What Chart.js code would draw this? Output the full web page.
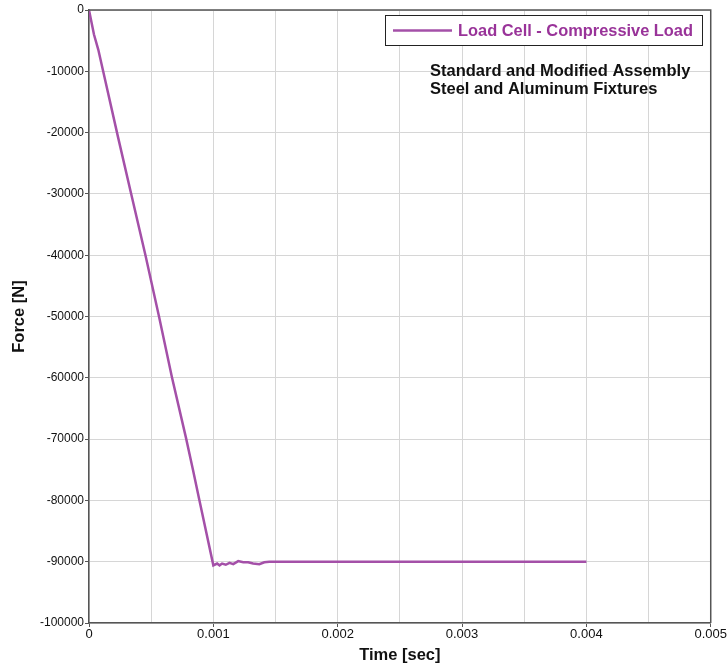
<!DOCTYPE html>
<html>
<head>
<meta charset="utf-8">
<title>Load Cell - Compressive Load</title>
<script src="https://cdn.jsdelivr.net/npm/chart.js@4.4.1/dist/chart.umd.min.js"></script>
<style>
  html, body { margin: 0; padding: 0; background: #fff; }
  #wrap { width: 727px; height: 666px; }
</style>
</head>
<body>
<div id="wrap"><canvas id="forceChart" width="727" height="666"></canvas></div>
<script>
// time [sec] and force [N]
const times = [
  0, 0.000040, 0.000075, 0.000113, 0.000233,
  0.000338, 0.000454, 0.000563, 0.000667, 0.000780,
  0.000836, 0.000887, 0.001000,
  0.00103, 0.00105, 0.00107, 0.00110, 0.00113, 0.00116, 0.00120,
  0.00124, 0.00128, 0.00132, 0.00137, 0.00141, 0.00145, 0.004
];
const forces = [
  0, -4000, -6500, -9900, -20700,
  -29900, -40000, -50000, -59900, -69800,
  -75000, -79900, -90600,
  -90300, -90600, -90300, -90500, -90200, -90400, -89900,
  -90100, -90100, -90300, -90400, -90100, -90000, -90000
];
const seriesLabel = "Load Cell - Compressive Load";
const notes = ["Standard and Modified Assembly", "Steel and Aluminum Fixtures"];
const xTitle = "Time [sec]";
const yTitle = "Force [N]";

const lineColor = "#a450a8";
const legendTextColor = "#993399";
const fontFamily = "'Liberation Sans', Arial, sans-serif";

const points = times.map((t, i) => ({ x: t, y: forces[i] }));

// box round the plot, legend box and the note text
const extras = {
  id: "extras",
  afterDraw(chart) {
    const { ctx, chartArea } = chart;
    const ds = chart.data.datasets[0];
    ctx.save();
    ctx.strokeStyle = "#555";
    ctx.lineWidth = 1.5;
    ctx.beginPath();
    ctx.moveTo(chartArea.left, chartArea.top);
    ctx.lineTo(chartArea.right, chartArea.top);
    ctx.lineTo(chartArea.right, chartArea.bottom);
    ctx.stroke();

    // legend
    ctx.fillStyle = "#fff";
    ctx.fillRect(385, 15, 317, 30);
    ctx.strokeStyle = "#222";
    ctx.lineWidth = 1;
    ctx.strokeRect(385.5, 15.5, 317, 30);
    ctx.strokeStyle = ds.borderColor;
    ctx.lineWidth = 2.5;
    ctx.beginPath();
    ctx.moveTo(393, 30.5);
    ctx.lineTo(452, 30.5);
    ctx.stroke();
    ctx.fillStyle = legendTextColor;
    ctx.font = "bold 16.4px " + fontFamily;
    ctx.textBaseline = "middle";
    ctx.textAlign = "left";
    ctx.fillText(ds.label, 458, 31);

    ctx.fillStyle = "#111";
    ctx.font = "bold 16.5px " + fontFamily;
    notes.forEach((line, i) => ctx.fillText(line, 430, 71 + i * 18));
    ctx.restore();
  }
};

new Chart(document.getElementById("forceChart"), {
  type: "line",
  data: {
    datasets: [{
      label: seriesLabel,
      data: points,
      borderColor: lineColor,
      borderWidth: 2.5,
      pointRadius: 0,
      tension: 0,
      fill: false,
    }],
  },
  options: {
    responsive: false,
    animation: false,
    layout: { padding: { left: 0, right: 16, top: 10, bottom: 0 } },
    plugins: { legend: { display: false }, tooltip: { enabled: false } },
    scales: {
      x: {
        type: "linear",
        min: 0,
        max: 0.005,
        afterFit: (scale) => { scale.height = 43; },
        border: { color: "#555", width: 1.5 },
        grid: {
          color: "#d6d6d6",
          tickLength: 4,
          tickColor: (c) => (c.index % 2 ? "rgba(0,0,0,0)" : "#555"),
        },
        ticks: {
          stepSize: 0.0005,
          autoSkip: false,
          maxRotation: 0,
          padding: 0,
          color: "#111",
          font: { family: fontFamily, size: 13 },
          callback: (value, index) => (index % 2 ? "" : String(Math.round(value * 1000) / 1000)),
        },
        title: {
          display: true,
          text: xTitle,
          color: "#111",
          font: { family: fontFamily, size: 16.5, weight: "bold" },
          padding: { top: 0, bottom: 1 },
        },
      },
      y: {
        min: -100000,
        max: 0,
        afterFit: (scale) => { scale.width = 89; },
        border: { color: "#555", width: 1.5 },
        grid: { color: "#d6d6d6", tickLength: 4, tickColor: "#555" },
        ticks: {
          stepSize: 10000,
          padding: 1,
          color: "#111",
          font: { family: fontFamily, size: 12 },
          callback: (value) => String(value),
        },
        title: {
          display: true,
          text: yTitle,
          color: "#111",
          font: { family: fontFamily, size: 16.5, weight: "bold" },
          padding: { top: 10, bottom: 0 },
        },
      },
    },
  },
  plugins: [extras],
});
</script>
</body>
</html>
